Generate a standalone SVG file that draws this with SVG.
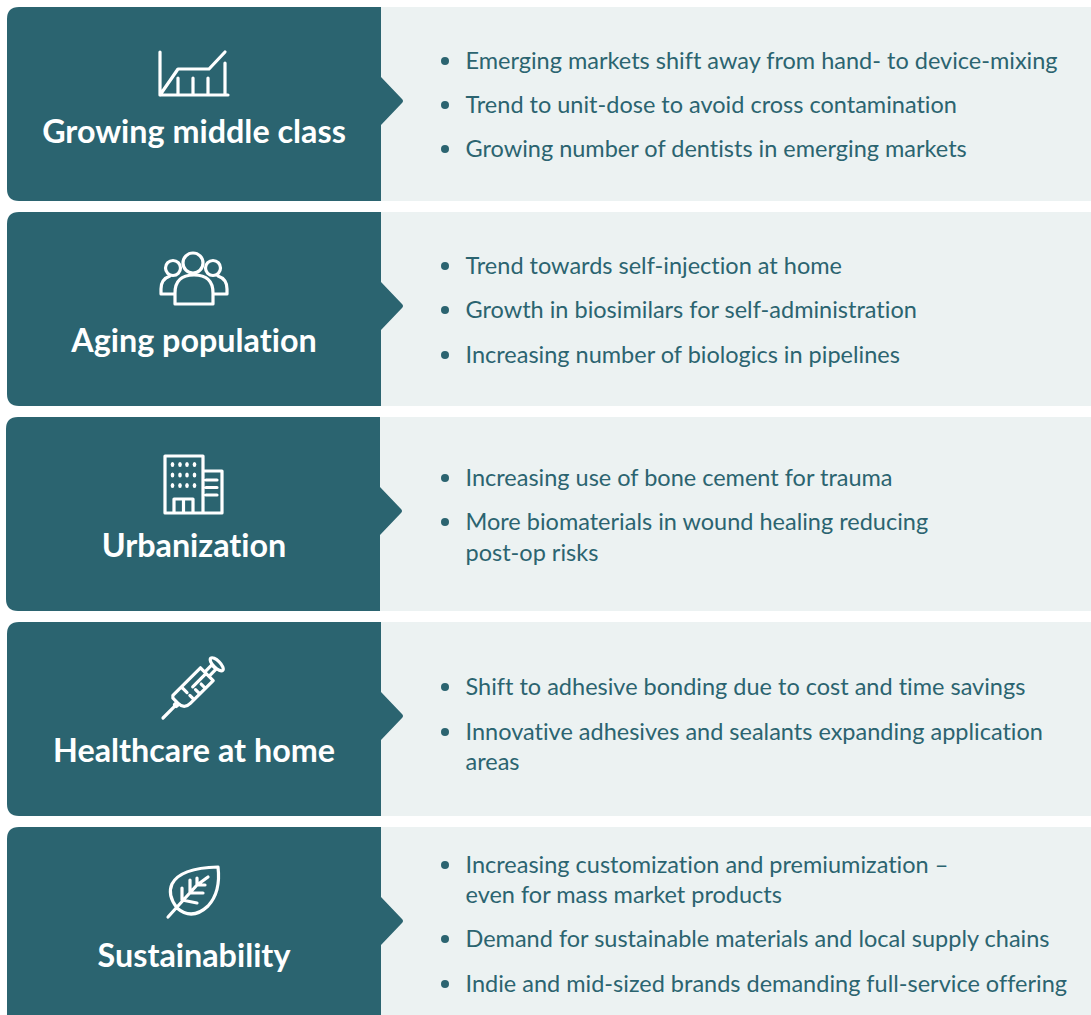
<svg xmlns="http://www.w3.org/2000/svg" width="1091" height="1015" viewBox="0 0 1091 1015">
<style>
.bg{fill:#ecf2f2}.hd{fill:#2b6470}
.t{font-family:"Lato","Noto Sans",sans-serif;font-size:23.5px;fill:#2b6470;font-variant-ligatures:none}
.h{font-family:"Lato","Noto Sans",sans-serif;font-size:32.3px;font-weight:700;fill:#fff;text-anchor:middle;font-variant-ligatures:none}
.i{fill:none;stroke:#fff;stroke-width:3.2;stroke-linecap:round;stroke-linejoin:round}
.d{fill:#fff}
.b{fill:#2b6470}
</style>
<defs>
<path id="hdr" class="hd" d="M381 0V70L402 92Q404 94 402 96L381 118V194H19Q7 194 7 182V12Q7 0 19 0Z"/>
<g id="dots" class="d"><ellipse cx="172.500" rx="1.800" ry="2.600"/><ellipse cx="180" rx="1.800" ry="2.600"/><ellipse cx="187" rx="1.800" ry="2.600"/><ellipse cx="194.500" rx="1.800" ry="2.600"/></g>
</defs>
<rect width="1091" height="1015" fill="#fff"/>
<g id="node-growing">
<rect class="bg" x="381" y="7" width="710" height="194"/>
<use href="#hdr" y="7"/>
<path class="i" d="M160 52V95M160 95H228M160 95L178 69H209L225 52M225 63V95M178 78V95M193 78V95M208 78V95"/>
<text class="h" x="194" y="143">Growing middle class</text>
<circle class="b" cx="445" cy="61" r="4"/><text class="t" x="465.500" y="69">Emerging markets shift away from hand- to device-mixing</text>
<circle class="b" cx="445" cy="105" r="4"/><text class="t" x="465.500" y="113">Trend to unit-dose to avoid cross contamination</text>
<circle class="b" cx="445" cy="149" r="4"/><text class="t" x="465.500" y="157">Growing number of dentists in emerging markets</text>
</g>
<g id="node-aging">
<rect class="bg" x="381" y="212" width="710" height="194"/>
<use href="#hdr" y="212"/>
<path class="i" d="M175 304V293Q175 275 194 275Q213 275 213 293V304ZM175 294H161V289Q161 279 170 276M213 294H227V289Q227 279 218 276"/>
<circle class="i" cx="173" cy="268" r="7.500"/><circle class="i" cx="213" cy="268" r="7.500"/><circle class="i" cx="193" cy="263" r="10"/>
<text class="h" x="194" y="352">Aging population</text>
<circle class="b" cx="445" cy="266" r="4"/><text class="t" x="465.500" y="274">Trend towards self-injection at home</text>
<circle class="b" cx="445" cy="310" r="4"/><text class="t" x="465.500" y="318">Growth in biosimilars for self-administration</text>
<circle class="b" cx="445" cy="355" r="4"/><text class="t" x="465.500" y="363">Increasing number of biologics in pipelines</text>
</g>
<g id="node-urban">
<rect class="bg" x="380" y="417" width="711" height="194"/>
<use href="#hdr" x="-1" y="417"/>
<path class="i" d="M165 456H203V513H165ZM203 471H222V513H203M174 513V499H193V513M183.500 499V513M206 480H217M206 487.500H217M206 495H217"/>
<use href="#dots" y="464.500"/><use href="#dots" y="475"/><use href="#dots" y="485.500"/>
<text class="h" x="194" y="557">Urbanization</text>
<circle class="b" cx="445" cy="478" r="4"/><text class="t" x="465.500" y="486">Increasing use of bone cement for trauma</text>
<circle class="b" cx="445" cy="522" r="4"/><text class="t" x="465.500" y="530">More biomaterials in wound healing reducing</text><text class="t" x="465.500" y="561">post-op risks</text>
</g>
<g id="node-home">
<rect class="bg" x="381" y="622" width="710" height="194"/>
<use href="#hdr" y="622"/>
<g transform="translate(163 718) rotate(-45)">
<path class="i" d="M0 0H16M23 -9H62V9H30Q21 9 21 0V-7ZM62 -3H72V3H62M35 -9V-1M43 9V3M51 9V3M35 9V3M43 -1H62"/>
<circle class="i" cx="18.500" cy="0" r="1.500"/>
<ellipse class="i" cx="76" cy="0" rx="3.500" ry="8.500"/>
</g>
<text class="h" x="194" y="762">Healthcare at home</text>
<circle class="b" cx="445" cy="687" r="4"/><text class="t" x="465.500" y="695">Shift to adhesive bonding due to cost and time savings</text>
<circle class="b" cx="445" cy="732" r="4"/><text class="t" x="465.500" y="740">Innovative adhesives and sealants expanding application</text><text class="t" x="465.500" y="770">areas</text>
</g>
<g id="node-sustain">
<rect class="bg" x="381" y="827" width="710" height="188"/>
<path class="hd" d="M381 827V897L402 919Q404 921 402 923L381 945V1015H7V839Q7 827 19 827Z"/>
<path class="i" d="M168 917L197 885M177 908Q167 895 172 884Q180 868 218 867Q221 892 208 906Q192 921 177 908ZM182 888V900L197 903M190 880V893H203M197 878V885L208 877M197 885H205"/>
<text class="h" x="194" y="967">Sustainability</text>
<circle class="b" cx="445" cy="865" r="4"/><text class="t" x="465.500" y="873">Increasing customization and premiumization –</text><text class="t" x="465.500" y="903">even for mass market products</text>
<circle class="b" cx="445" cy="939" r="4"/><text class="t" x="465.500" y="947">Demand for sustainable materials and local supply chains</text>
<circle class="b" cx="445" cy="984" r="4"/><text class="t" x="465.500" y="992">Indie and mid-sized brands demanding full-service offering</text>
</g>
</svg>
